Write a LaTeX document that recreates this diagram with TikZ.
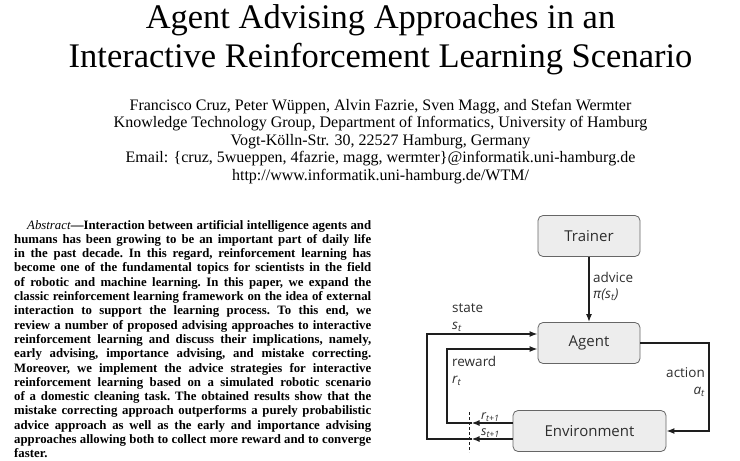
\documentclass[tikz,border=0pt]{standalone}
\usepackage{fontspec}
\setmainfont{Liberation Serif}
\newfontfamily\diagfont{Open Sans}
\usetikzlibrary{arrows.meta}
\definecolor{boxfill}{HTML}{EDEDED}
\definecolor{boxline}{HTML}{666666}
\definecolor{linecol}{HTML}{1E1E1E}
\definecolor{labelcol}{HTML}{2E2E2E}

\begin{document}
\begin{tikzpicture}[x=1pt,y=-1pt,>={Latex[length=8pt,width=6pt]}]
\useasboundingbox (0,0) rectangle (740,461);

\begin{scope}[every node/.style={anchor=base,inner sep=0pt}]
	\node (title1) at (380.5,28) {\fontsize{34.5}{40}\selectfont Agent Advising Approaches in an};
	\node (title2) at (380.5,67) {\fontsize{34.5}{40}\selectfont Interactive Reinforcement Learning Scenario};
\end{scope}

\begin{scope}[every node/.style={anchor=base,inner sep=0pt,font=\fontsize{16}{18}\selectfont}]
	\node (authors) at (380.5,110) {Francisco Cruz, Peter Wüppen, Alvin Fazrie, Sven Magg, and Stefan Wermter};
	\node (group) at (380.5,127.6) {Knowledge Technology Group, Department of Informatics, University of Hamburg};
	\node (address) at (380.5,145.2) {Vogt-Kölln-Str. 30, 22527 Hamburg, Germany};
	\node (email) at (380.5,162.8) {Email: \{cruz, 5wueppen, 4fazrie, magg, wermter\}@informatik.uni-hamburg.de};
	\node (url) at (380.5,180.4) {http://www.informatik.uni-hamburg.de/WTM/};
\end{scope}

\node (abstract) [anchor=base west,inner sep=0pt] at (14,229) {\parbox[t]{357pt}{\fontsize{12.8}{14.3}\selectfont\bfseries
	\tolerance=10000\hbadness=10000\hfuzz=5pt\hyphenpenalty=10000\frenchspacing
	\hspace*{13pt}\textit{\mdseries Abstract}---Interaction between artificial intelligence agents and\linebreak
	humans has been growing to be an important part of daily life\linebreak
	in the past decade. In this regard, reinforcement learning has\linebreak
	become one of the fundamental topics for scientists in the field\linebreak
	of robotic and machine learning. In this paper, we expand the\linebreak
	classic reinforcement learning framework on the idea of external\linebreak
	interaction to support the learning process. To this end, we\linebreak
	review a number of proposed advising approaches to interactive\linebreak
	reinforcement learning and discuss their implications, namely,\linebreak
	early advising, importance advising, and mistake correcting.\linebreak
	Moreover, we implement the advice strategies for interactive\linebreak
	reinforcement learning based on a simulated robotic scenario\linebreak
	of a domestic cleaning task. The obtained results show that the\linebreak
	mistake correcting approach outperforms a purely probabilistic\linebreak
	advice approach as well as the early and importance advising\linebreak
	approaches allowing both to collect more reward and to converge\linebreak
	faster.}};

\begin{scope}[every node/.style={rectangle,rounded corners=5pt,draw=boxline,line width=0.8pt,fill=boxfill,text=labelcol,
	minimum height=41pt,inner sep=0pt,font=\diagfont\fontsize{15}{18}\selectfont}]
	\node [minimum width=102pt] (trainer) at (589,236) {Trainer};
	\node [minimum width=102pt] (agent) at (589,343) {Agent};
	\node [minimum width=153pt] (env) at (589.5,431) {Environment};
\end{scope}

\coordinate (actturn) at (709,343);
\coordinate (rdash) at (471.5,423);
\coordinate (sdash) at (471.5,439);
\coordinate (rturn) at (447,423);
\coordinate (sturn) at (427,439);
\coordinate (dtop) at (469,412);
\coordinate (dbot) at (469,452);

\begin{scope}[linecol,line width=1.5pt]
	\path [->] (trainer) edge (agent);
	\draw [->] (agent.east) -- (actturn) |- (env.east);
	\draw [->] ([yshift=8pt]env.west) -- (rdash);
	\draw [->] ([yshift=-8pt]env.west) -- (sdash);
	\draw [->] (rdash) -- (rturn) |- ([yshift=-6pt]agent.west);
	\draw [->] (sdash) -- (sturn) |- ([yshift=9pt]agent.west);
	\draw [line width=0.8pt,dash pattern=on 3pt off 2pt] (dtop) -- (dbot);
\end{scope}

\begin{scope}[every node/.style={anchor=base west,inner sep=0pt,text=labelcol,font=\diagfont\fontsize{13.5}{16}\selectfont}]
	\node (advtxt) at (593,282) {advice};
	\node (advsym) at (593,298) {\itshape π(s\textsubscript{t})};
	\node (statetxt) at (452,312) {state};
	\node (statesym) at (452,329) {\itshape s\textsubscript{t}};
	\node (rewtxt) at (452,366) {reward};
	\node (rewsym) at (452,383) {\itshape r\textsubscript{t}};
	\node [anchor=base east] (acttxt) at (705,377) {action};
	\node [anchor=base east] (actsym) at (705,394) {\itshape a\textsubscript{t}};
	\node [font=\diagfont\fontsize{12.5}{14}\selectfont] (rnext) at (481,419) {\itshape r\textsubscript{t+1}};
	\node [font=\diagfont\fontsize{12.5}{14}\selectfont] (snext) at (481,435) {\itshape s\textsubscript{t+1}};
\end{scope}
\end{tikzpicture}
\end{document}
